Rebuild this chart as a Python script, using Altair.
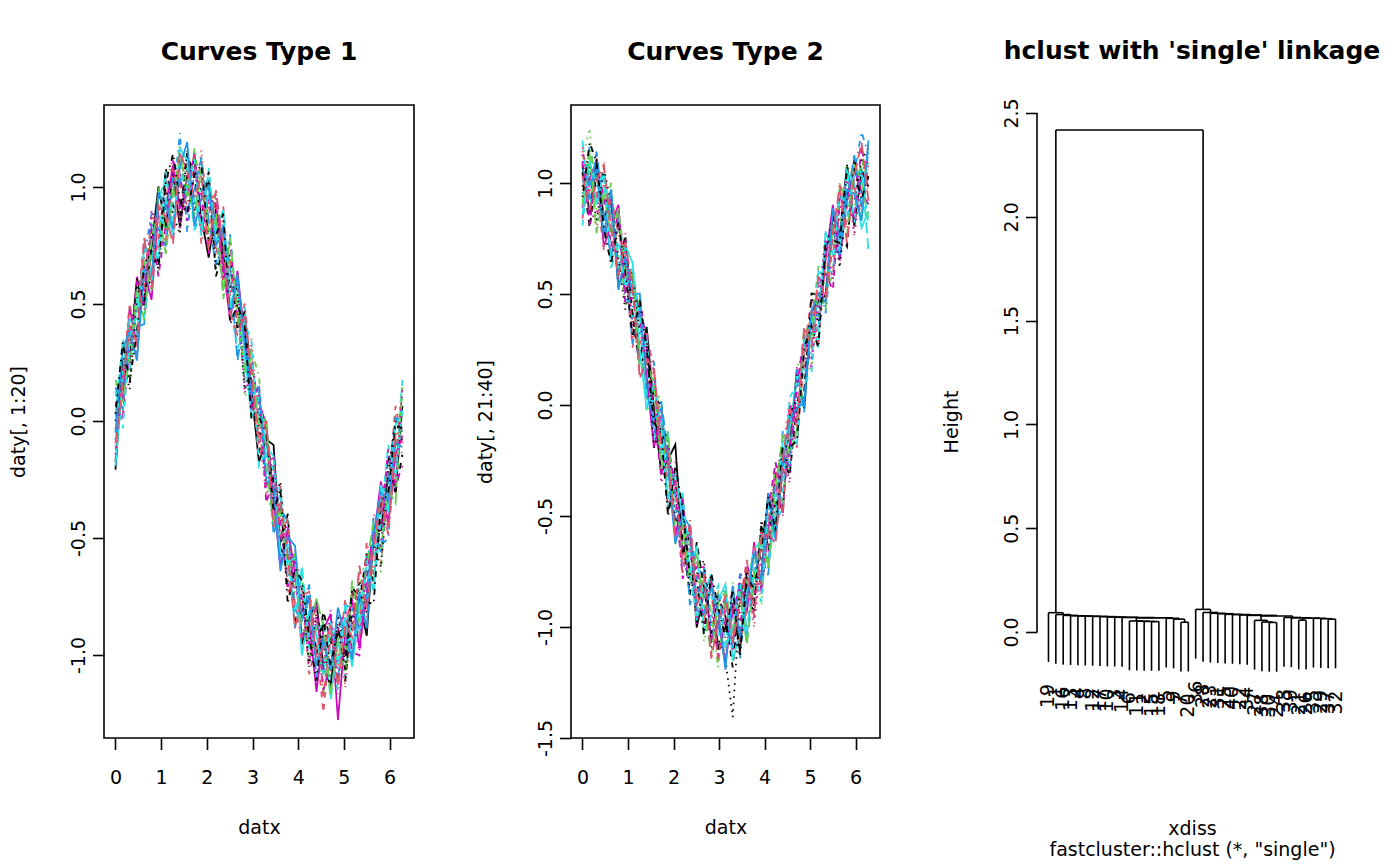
import altair as alt
import pandas as pd

# ---------------- data ----------------
datx = [0.00, 0.16, 0.31, 0.47, 0.63, 0.79, 0.94, 1.10, 1.26, 1.41,
        1.57, 1.73, 1.88, 2.04, 2.20, 2.36, 2.51, 2.67, 2.83, 2.98,
        3.14, 3.30, 3.46, 3.61, 3.77, 3.93, 4.08, 4.24, 4.40, 4.55,
        4.71, 4.87, 5.03, 5.18, 5.34, 5.50, 5.65, 5.81, 5.97, 6.13, 6.28]

# centre of the band of curves
band_type1 = [0.00, 0.16, 0.31, 0.45, 0.59, 0.71, 0.81, 0.89, 0.95, 0.99,
              1.00, 0.99, 0.95, 0.89, 0.81, 0.71, 0.59, 0.45, 0.31, 0.16,
              0.00, -0.16, -0.31, -0.45, -0.59, -0.71, -0.81, -0.89, -0.95, -0.99,
              -1.00, -0.99, -0.95, -0.89, -0.81, -0.71, -0.59, -0.45, -0.31, -0.16, 0.00]
band_type2 = [1.00, 0.99, 0.95, 0.89, 0.81, 0.71, 0.59, 0.45, 0.31, 0.16,
              0.00, -0.16, -0.31, -0.45, -0.59, -0.71, -0.81, -0.89, -0.95, -0.99,
              -1.00, -0.99, -0.95, -0.89, -0.81, -0.71, -0.59, -0.45, -0.31, -0.16,
              0.00, 0.16, 0.31, 0.45, 0.59, 0.71, 0.81, 0.89, 0.95, 0.99, 1.00]

# deviation of each curve from the band centre (estimated), in steps of DEV_STEP
DEV_STEP = 0.016
dev_type1 = [
    [-13, 5, -3, 10, -6, 2, 12, -4, 7, -10, 3, 8, -5, -12, 6, 1, -7, 9, 4, -2, -11, 5, 13, -6, 0, 8, -9, 3, 11, -4, -8, 6, -3, 10, 2, -13, 7, -1, 5, -9, 4],
    [3, -9, 7, 1, 12, -5, -2, 9, -11, 4, 6, -8, 10, 2, -6, 13, -3, -10, 5, 8, -1, -7, 4, 11, -9, 2, 6, -12, 0, -16, 5, -4, 12, -7, -2, 8, 3, -10, 1, 14, -6],
    [10, -2, -7, 6, 0, 9, -11, 3, 5, 12, -8, -1, 7, -4, 11, -9, 2, 6, -13, 1, 8, -5, -10, 3, 12, -2, 7, 4, -8, -3, 10, -11, 1, 6, 9, -5, -2, 8, -7, 3, 10],
    [-5, 8, 2, -10, 7, 11, 4, -6, -1, 15, -12, 5, 2, 8, -3, -7, 13, 0, -9, 6, 3, 10, -4, -8, 5, -11, 1, 9, 6, -2, -6, 12, -9, 3, 7, -1, 11, -5, -12, 2, -8],
    [1, 12, -6, 4, -9, -3, 8, 10, -7, 2, 5, -11, -4, 9, 1, 6, -8, -2, 11, -5, 7, 0, -6, 9, 3, -10, 12, -3, 5, 8, -12, 2, 6, -4, -9, 10, 1, 7, -3, -6, 11],
    [7, -4, 11, -8, 3, -12, 6, 1, 9, -5, -2, 10, -9, 4, 7, -3, -10, 12, 2, -6, 5, 9, -1, -11, 8, 4, -7, 2, -13, 6, 11, -18, 3, 8, -10, -2, 5, 12, -8, 1, -4],
    [-11, 6, 0, 8, -4, 5, -9, 12, -2, -7, 9, 3, -6, 11, -12, 2, 7, -4, 10, -1, -8, 6, 3, -5, 12, -9, 0, 8, -3, 11, 4, -7, -10, 5, 2, 9, -6, 3, 10, -9, -9],
    [4, -1, 9, -12, 8, 2, -5, 7, 11, -9, 1, -4, 13, -7, 3, 9, -2, 5, -8, 12, -3, -10, 8, 1, -6, 10, 5, -9, 7, -1, -5, 9, -12, 2, 6, -8, 12, 0, -4, 7, -9],
    [-2, 10, -8, 3, 6, -10, 12, -6, 0, 8, -3, 11, 2, -9, 5, -12, 8, 3, -5, 9, 12, -4, -7, 6, -2, 1, 10, -8, 4, -11, 7, 3, -1, -9, 11, 5, -3, -12, 8, 2, 6],
    [9, -7, 4, -3, -11, 8, 1, -9, 6, 3, -6, 0, 11, -2, -9, 7, 4, -12, 9, -4, 2, 8, -11, 5, 10, -6, -3, 12, -9, 4, 1, -8, 10, 6, -5, -2, 9, -7, 3, 11, -3],
    [-12, 3, 8, -5, 10, -1, -7, 4, -10, 11, 7, -3, -8, 5, 0, 12, -6, 9, -2, -9, 6, 3, 10, -7, -1, 8, -12, 5, 2, -6, 9, -3, 7, -10, 1, 4, -8, 11, -5, 9, 2],
    [5, -10, 1, 9, -2, 7, -12, -3, 10, 4, -9, 6, 1, -11, 8, -5, 11, -1, 3, -7, 10, -12, 5, 2, -8, 7, 3, -4, 11, -10, -2, 6, 9, -6, -12, 3, 8, -1, 12, -7, -12],
    [0, 7, -11, 5, 2, -8, 9, 6, -4, -12, 10, -6, 4, 8, -10, 3, -1, 7, -11, 5, -4, 9, -2, 12, -7, 0, 6, -10, 8, 3, -9, 11, -5, 1, 8, -7, 4, -11, 6, 10, -5],
    [-7, 2, 12, -9, -1, 10, 3, -8, 8, 1, -5, 9, -12, 3, 10, -8, 6, -3, 12, 0, -9, 4, 7, -3, 11, -5, -8, 2, 9, -12, 6, -1, 4, 10, -7, 12, -4, 5, -9, 0, 8],
    [11, -5, -2, 7, -10, 4, 6, -11, 2, 9, 0, -7, 8, -5, 3, -10, 12, 1, -6, 7, -2, 11, -8, 4, -3, 9, -5, -1, 12, 7, -11, 4, -8, 13, -3, 6, 10, -6, 1, -12, 9],
    [-3, 9, 5, -12, 4, -6, 10, 2, -8, 6, 12, -10, 0, 7, -4, 8, -9, 11, 1, -3, 9, -6, 2, -12, 6, 11, -2, 8, -6, 3, -4, 12, 2, -8, 5, -11, 7, 9, -2, 4, -7],
    [8, -12, 3, 0, 9, -7, -3, 11, -6, 5, -1, 8, -10, 12, -2, 4, -5, -9, 7, 11, -12, 2, 6, 9, -4, -7, 10, -5, 3, 8, 1, -10, 11, -3, -6, 7, -9, 2, 13, -5, 3],
    [-9, 4, -5, 11, -7, 12, 0, -2, 9, -11, 3, 6, -3, 1, 10, -6, 2, 8, -12, 4, 6, -8, 11, -4, 9, -1, 3, -9, 7, -5, 12, -6, 0, 4, -11, 8, 2, -5, 10, -8, 9],
    [2, 11, -9, -4, 5, 1, -10, 8, 12, -3, -7, 4, 9, -8, -1, 11, -11, 3, 6, -10, 1, 7, -5, 10, -12, 5, 8, -2, -10, 9, -3, 7, -7, 11, 4, -4, -12, 6, 0, 9, -2],
    [-6, 0, 6, -7, 12, -9, 7, -1, -12, 10, 4, -2, 6, -10, 11, 2, -8, -5, 9, 3, -6, 10, -9, 7, 1, -11, 4, 10, -4, 1, 8, -9, 5, -2, 12, -6, 3, 8, -11, 6, -4],
]
dev_type2 = [
    [5, -8, 10, -3, 7, -11, 2, 9, -6, 12, -1, -9, 4, 17, -5, 8, -12, 3, 11, -7, 0, 6, -10, 9, 2, -4, 12, -8, 5, -2, 10, -11, 7, 1, -6, 9, -3, 12, -9, 4, -1],
    [-10, 4, -1, 12, -8, 6, 3, -12, 10, -4, 8, 2, -9, 5, -7, 11, 1, -5, 9, -11, 7, -3, 4, 12, -6, 10, -9, 2, -1, 8, -12, 5, 11, -4, 3, -8, 6, 0, 10, -7, 3],
    [7, 16, -6, 4, 11, -2, -9, 5, 8, -10, 3, 12, -4, -7, 10, 0, 6, -11, 2, 9, -8, 12, -5, 1, 7, -12, 4, 9, -3, -6, 11, 3, -10, 8, -1, 5, -7, 12, 2, -9, 6],
    [-3, 11, 2, -9, 5, 9, -7, 0, -11, 6, 12, -5, 8, 1, -10, 4, -3, 9, -8, 6, 11, -2, -12, 5, 3, 8, -7, -1, 12, -9, 4, 7, -5, 10, -11, 2, 9, -4, 6, 15, 8],
    [12, -6, 5, 8, -12, 1, 7, -4, 3, 10, -9, -2, 11, -6, 4, 7, -10, 2, 12, -3, -5, 9, 6, -11, 0, 5, 10, -6, -9, 3, 8, -2, 6, -12, 9, 1, -4, 11, -8, 5, -19],
    [-7, 2, 9, -11, 0, 12, -5, 8, 6, -2, -12, 7, 3, -9, 11, -4, 5, 10, -7, 1, -10, 4, 8, -3, 12, -8, 2, 6, -11, 10, -5, 9, 1, -7, 4, 12, -10, 3, 7, -2, -6],
    [3, -12, 6, 1, 9, -7, 11, -3, -8, 5, 2, 10, -11, 7, -1, -9, 12, 4, -5, 8, 3, -12, 10, 0, -7, 11, -4, 8, 5, -10, 1, -6, 12, 3, -9, 7, -2, -11, 9, 4, 1],
    [9, -1, -10, 7, -5, 3, 12, -9, 4, -6, 10, -3, 1, 12, -8, 6, -2, -7, 11, 3, -9, 5, -1, 8, -12, 2, 9, -5, 7, 11, -3, 4, -8, -1, 12, -6, 5, 9, -12, 2, 10],
    [-5, 10, 4, -7, 12, -10, -1, 6, 9, -12, 5, 8, -6, 2, -3, 11, -9, 7, 1, -12, 10, -4, 3, 6, 9, -7, -2, 12, -10, 4, 7, -9, 2, 11, -4, -8, 12, 1, -5, 8, -3],
    [1, -4, 12, -2, -9, 8, 4, -11, 7, 3, -8, 11, 6, -5, 9, -12, 2, 10, -4, -1, 8, -7, 12, -9, 4, 1, -11, 7, 3, -5, 10, -12, 6, -3, 8, 5, -9, 2, 11, -6, 9],
    [-9, 7, -3, 10, 2, -6, 8, 12, -4, -11, 6, 1, -7, 9, 5, -3, 11, -8, 0, 7, 12, -10, -5, 3, 10, 6, -8, -3, 9, 1, -11, 8, 4, -7, 12, -2, -6, 10, 3, -12, -8],
    [6, -11, 8, 3, -6, 10, -8, 2, 11, 7, -3, -10, 9, 4, -12, 1, 8, -6, 10, -9, 2, 6, -4, 11, -2, -9, 7, 12, -6, -3, 5, 10, -9, 6, 0, -12, 8, 4, -7, 11, -1],
    [-1, 5, -8, 11, 6, -3, -10, 9, 1, 8, -12, 4, 10, -5, 7, -8, 3, 12, -9, -4, -9, -26, 5, 9, -6, 12, -3, 1, -10, 7, 2, -8, 11, -5, 6, 9, -12, 4, -2, 7, 10],
    [10, -3, 1, -12, 8, 4, 6, -7, -2, 11, 9, -6, -1, 8, -11, 12, -5, 2, 7, -10, 5, 9, -8, -2, 11, -6, 4, 10, -12, 8, -4, 1, 9, -11, 5, -3, 12, -6, 2, -9, 5],
    [-6, 9, -11, 5, -3, 11, -1, 10, -9, 2, 6, -8, 12, -10, 3, -5, 9, -1, -11, 6, 10, -2, 7, -12, 3, 8, -9, 5, 11, -4, -7, 12, -1, 4, -10, 6, 2, -8, 9, 1, -10],
    [4, 0, 7, -8, 10, -12, 5, 3, 12, -7, -4, 9, 2, -11, 6, 10, -7, -3, 8, 4, -12, 11, -6, 1, 9, -5, 12, -10, 2, 6, -1, -9, 7, 3, -8, 11, -4, 5, 0, -10, 12],
    [-12, 6, 3, 9, -10, 2, -4, 11, 5, -8, 1, 7, -9, 3, 12, -2, -10, 6, 4, 11, -6, 0, 9, -8, 5, -11, 8, 3, -5, 12, 6, -4, -10, 9, 1, -7, 10, -3, 6, 4, -12],
    [8, -10, -5, 2, 7, -9, 10, -6, 4, 1, 11, -12, 5, 7, -3, 9, -11, 4, -2, 8, 3, -7, 12, 6, -10, 2, -5, 9, 7, -12, 11, 3, -6, 1, 10, -9, 4, 8, -11, 3, 7],
    [-4, 12, 9, -6, -11, 7, 1, -9, 10, 6, -5, 2, -12, 11, 8, -4, 1, -9, 12, 5, -3, 10, -11, 7, -1, 4, 11, -7, 8, -2, -10, 6, 3, -12, 9, 2, -5, 11, 7, -4, 2],
    [2, -7, 4, 12, -1, -8, 9, 5, -12, 3, 10, -1, 6, -9, 2, 11, -6, 8, -12, 1, 9, -5, 3, 10, -9, 7, 1, -11, 4, 9, -6, 12, -3, 8, -7, 4, 11, -10, 5, 12, -5],
]

curve_colors = ["#000000", "#DF536B", "#61D04F", "#2297E6", "#28E2E5", "#CD0BBC"]
curve_dashes = [[1, 0], [6, 6], [1.5, 5], [1.5, 5, 6, 5], [11, 5]]

# dendrogram: leaf labels in plotting order, merges (negative = leaf position)
leaf_labels = [19, 1, 16, 13, 4, 8, 12, 17, 10, 3, 14, 6, 11, 2, 15, 18, 5, 9, 7, 20,
               36, 28, 23, 31, 25, 40, 22, 34, 27, 38, 30, 24, 33, 39, 21, 26, 35, 29, 37, 32]
merge_a = [-19, -18, -17, -15, -14, -13, -12, 7, -11, -10, -9, -8, -7, -6, -5, -4, -3, -2, -1,
           -39, -38, -37, -35, 23, -34, -33, -31, -30, -29, 29, -28, -27, -26, -25, -24, -23, -22, -21, 19]
merge_b = [-20, 1, 2, -16, 4, 5, 6, 3, 8, 9, 10, 11, 12, 13, 14, 15, 16, 17, 18,
           -40, 20, 21, -36, 22, 24, 25, -32, 27, 28, 26, 30, 31, 32, 33, 34, 35, 36, 37, 38]
merge_height = [0.047, 0.062, 0.066, 0.050, 0.051, 0.052, 0.053, 0.068, 0.070, 0.071,
                0.072, 0.074, 0.075, 0.076, 0.077, 0.078, 0.080, 0.084, 0.093,
                0.062, 0.064, 0.066, 0.057, 0.067, 0.068, 0.070, 0.046, 0.048, 0.056,
                0.077, 0.080, 0.082, 0.084, 0.085, 0.088, 0.090, 0.094, 0.109, 2.418]

# ---------------- build tables ----------------
FONT = "DejaVu Sans"
PANEL_H = 633
TITLE_SIZE = 25


def curve_table(band, devs, first_id):
    rows = []
    for i, dev in enumerate(devs):
        for k, (xv, bv, dv) in enumerate(zip(datx, band, dev)):
            rows.append({"curve": f"c{first_id + i:02d}", "k": k, "x": xv, "y": bv + dv * DEV_STEP})
    return pd.DataFrame(rows)


def hyphen_expr(fmt):
    return "replace(format(datum.value, '" + fmt + "'), '\u2212', '-')"


def panel_title(text, offset):
    return alt.TitleParams(text, font=FONT, fontSize=TITLE_SIZE, fontWeight="bold",
                           anchor="middle", baseline="alphabetic", offset=offset,
                           frame="group", color="black")


def curve_panel(df, first_id, title, ytitle, ydomain, yvalues, width):
    ids = [f"c{first_id + i:02d}" for i in range(20)]
    cols = [curve_colors[i % 6] for i in range(20)]
    dashes = [curve_dashes[i % 5] for i in range(20)]
    return alt.Chart(df).mark_line(strokeWidth=1.8).encode(
        x=alt.X("x:Q",
                scale=alt.Scale(domain=[-0.2513, 6.5345], nice=False, zero=False),
                axis=alt.Axis(values=[0, 1, 2, 3, 4, 5, 6], format="d", title="datx",
                              domain=False, labelPadding=19,
                              titleX=width / 2, titleY=95.7, titleBaseline="alphabetic",
                              titleAlign="center")),
        y=alt.Y("y:Q",
                scale=alt.Scale(domain=ydomain, nice=False, zero=False),
                axis=alt.Axis(values=yvalues, labelExpr=hyphen_expr(".1f"), title=ytitle,
                              domain=False, labelAngle=270, labelAlign="center",
                              labelBaseline="bottom", labelPadding=4,
                              titleAngle=270, titleX=-86, titleY=PANEL_H / 2,
                              titleBaseline="middle", titleAlign="center")),
        color=alt.Color("curve:N", scale=alt.Scale(domain=ids, range=cols), legend=None),
        strokeDash=alt.StrokeDash("curve:N", scale=alt.Scale(domain=ids, range=dashes), legend=None),
        order=alt.Order("k:Q"),
    ).properties(width=width, height=PANEL_H, title=panel_title(title, 20.5))


df1 = curve_table(band_type1, dev_type1, 1)
df2 = curve_table(band_type2, dev_type2, 21)

p1 = curve_panel(df1, 1, "Curves Type 1", "daty[, 1:20]", [-1.3547, 1.3504],
                 [-1.0, -0.5, 0.0, 0.5, 1.0], 310)
p2 = curve_panel(df2, 21, "Curves Type 2", "daty[, 21:40]", [-1.5, 1.3514],
                 [-1.5, -1.0, -0.5, 0.0, 0.5, 1.0], 309)

# dendrogram layout
x3_domain = [-0.56, 41.56]
y3_domain = [-0.5106, 2.5385]
hang = 0.1 * (max(merge_height) - min(merge_height))
label_gap = 22.0 * (y3_domain[1] - y3_domain[0]) / PANEL_H

node_pos = {}
segs = []
labs = []
for j, (a, b, h) in enumerate(zip(merge_a, merge_b, merge_height), start=1):
    xs = []
    for c in (a, b):
        if c < 0:
            cx = -c
            bottom = h - hang
            labs.append({"x": cx, "y": bottom - label_gap, "label": str(leaf_labels[cx - 1])})
        else:
            cx, bottom = node_pos[c]
        segs.append({"x": cx, "x2": cx, "y": h, "y2": bottom})
        xs.append(cx)
    segs.append({"x": xs[0], "x2": xs[1], "y": h, "y2": h})
    node_pos[j] = ((xs[0] + xs[1]) / 2.0, h)

height_ticks = [0.0, 0.5, 1.0, 1.5, 2.0, 2.5]
# axis line of the Height axis (from first to last tick, as R draws it)
segs.append({"x": x3_domain[0], "x2": x3_domain[0], "y": height_ticks[0], "y2": height_ticks[-1]})

seg_df = pd.DataFrame(segs)
lab_df = pd.DataFrame(labs)

X3 = alt.X("x:Q", scale=alt.Scale(domain=x3_domain, nice=False, zero=False),
           axis=alt.Axis(title=["xdiss", 'fastcluster::hclust (*, "single")'],
                         labels=False, ticks=False, domain=False,
                         titleX=155, titleY=96, titleBaseline="alphabetic",
                         titleAlign="center", titleLineHeight=21))
Y3 = alt.Y("y:Q", scale=alt.Scale(domain=y3_domain, nice=False, zero=False),
           axis=alt.Axis(values=height_ticks, labelExpr=hyphen_expr(".1f"), title="Height",
                         domain=False, labelAngle=270, labelAlign="center",
                         labelBaseline="bottom", labelPadding=4,
                         titleAngle=270, titleX=-86, titleY=PANEL_H / 2,
                         titleBaseline="middle", titleAlign="center"))

rules = alt.Chart(seg_df).mark_rule(color="black", strokeWidth=1.6).encode(
    x=X3, x2="x2:Q", y=Y3, y2="y2:Q")
leaf_text = alt.Chart(lab_df).mark_text(angle=270, align="right", baseline="middle",
                                        font=FONT, fontSize=19, color="black").encode(
    x=X3, y=Y3, text="label:N")

p3 = alt.layer(rules, leaf_text).properties(
    width=310, height=PANEL_H,
    view=alt.ViewBackground(stroke="transparent"),
    title=panel_title("hclust with 'single' linkage", 13.5),
)

chart = alt.hconcat(p1, p2, p3, spacing=157, bounds="flush").properties(
    padding={"left": 8, "top": 38, "right": 5, "bottom": 5},
    background="white",
).configure(font=FONT).configure_axis(
    labelFont=FONT, titleFont=FONT, labelFontSize=19, titleFontSize=19,
    titleFontWeight="normal", labelColor="black", titleColor="black",
    tickColor="black", tickWidth=1.6, tickSize=11.5, grid=False,
).configure_view(stroke="black", strokeWidth=1.6)

chart.save("out.html", embed_options={"renderer": "svg", "actions": False})
